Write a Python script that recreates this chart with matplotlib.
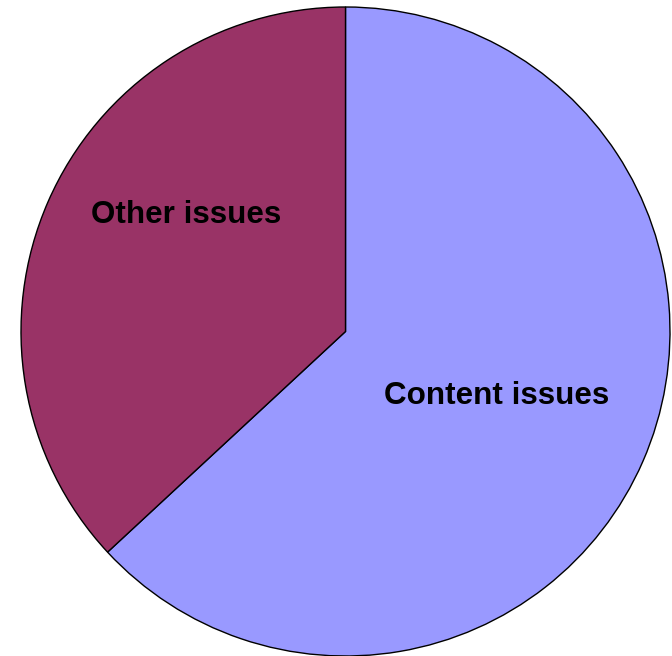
import matplotlib
matplotlib.use("Agg")
import matplotlib.pyplot as plt

labels = ["Content issues", "Other issues"]
values = [63.1, 36.9]
colors = ["#9999FF", "#993366"]

W, H = 672, 656
fig = plt.figure(figsize=(W / 100, H / 100), dpi=100)
cx, cy, r = 345.5, 331.5, 324.5
ax = fig.add_axes([(cx - r) / W, (H - cy - r) / H, 2 * r / W, 2 * r / H])
ax.pie(values, colors=colors, startangle=90, counterclock=False, radius=1,
       wedgeprops=dict(edgecolor="black", linewidth=1.0))
ax.set_xlim(-1, 1)
ax.set_ylim(-1, 1)
ax.set_aspect("auto")
ax.axis("off")

label_pos = [(0.4653, -0.2243), (-0.4906, 0.3344)]
for lab, (x, y) in zip(labels, label_pos):
    ax.text(x, y, lab, ha="center", va="baseline", fontsize=22.6, fontweight="bold",
            family=["Liberation Sans", "DejaVu Sans"], color="black")

fig.savefig("out.png", dpi=100)
